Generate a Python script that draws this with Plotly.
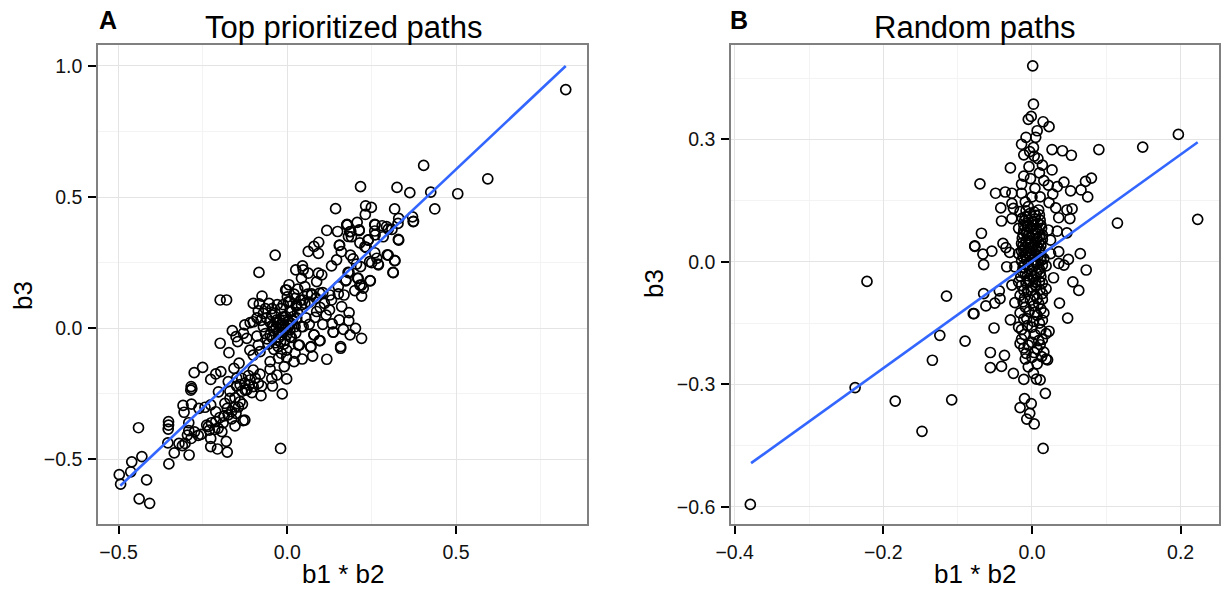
import plotly.graph_objects as go
from plotly.subplots import make_subplots

top_points = [
(-0.498,-0.558),(-0.494,-0.594),(-0.461,-0.509),(-0.464,-0.547),(-0.431,-0.489),(-0.441,-0.379),(-0.417,-0.578),(-0.439,-0.650),(-0.408,-0.667),
(-0.351,-0.517),(-0.354,-0.437),(-0.352,-0.356),(-0.352,-0.369),(-0.353,-0.384),(-0.335,-0.475),(-0.291,-0.483),(-0.321,-0.439),(-0.311,-0.447),
(-0.303,-0.439),(-0.296,-0.407),(-0.292,-0.390),(-0.292,-0.360),(-0.306,-0.320),(-0.309,-0.294),(-0.284,-0.289),(-0.285,-0.222),(-0.283,-0.230),
(-0.286,-0.236),(-0.276,-0.169),(-0.251,-0.149),(-0.264,-0.408),(-0.256,-0.404),(-0.239,-0.369),(-0.234,-0.375),(-0.231,-0.388),(-0.227,-0.420),
(-0.227,-0.451),(-0.207,-0.460),(-0.178,-0.472),(-0.181,-0.431),(-0.194,-0.394),(-0.212,-0.356),(-0.205,-0.381),(-0.212,-0.318),(-0.262,-0.305),
(-0.244,-0.301),(-0.227,-0.292),(-0.199,0.108),(-0.180,0.108),(-0.199,-0.057),(-0.173,-0.093),(-0.163,-0.009),(-0.152,-0.032),(-0.147,-0.051),
(-0.227,-0.195),(-0.212,-0.174),(-0.197,-0.165),(-0.175,-0.203),(-0.204,-0.242),(-0.158,-0.153),(-0.143,-0.133),(-0.170,-0.267),(-0.185,-0.286),
(-0.178,-0.305),(-0.165,-0.318),(-0.152,-0.324),(-0.133,-0.289),(-0.187,-0.334),(-0.155,-0.372),(-0.131,-0.352),(-0.126,-0.350),(-0.020,-0.458),
(-0.015,-0.250),(-0.078,-0.257),(-0.044,-0.220),(-0.002,-0.193),(-0.120,-0.235),(-0.111,-0.197),(-0.126,-0.210),(-0.101,-0.222),(-0.081,-0.175),
(-0.086,-0.210),(-0.150,-0.220),(-0.135,-0.191),(-0.101,-0.159),(-0.076,-0.220),(-0.113,-0.216),(-0.046,-0.191),(-0.031,-0.178),(-0.051,-0.156),
(-0.009,-0.146),(-0.051,-0.127),(-0.026,-0.114),(-0.002,-0.111),(0.020,-0.127),(0.044,-0.117),(0.075,-0.106),(0.117,-0.118),(0.158,-0.076),
(0.095,-0.047),(0.069,-0.072),(0.079,-0.025),(0.136,-0.015),(0.036,-0.064),(0.023,-0.095),(-0.002,-0.083),(-0.027,-0.070),(-0.007,-0.044),
(-0.056,-0.060),(-0.086,-0.064),(-0.111,-0.083),(-0.101,-0.102),(-0.081,-0.089),(-0.120,-0.038),(-0.130,-0.019),(-0.126,0.013),(-0.110,0.022),
(-0.101,0.025),(-0.071,0.006),(-0.051,-0.025),(-0.101,0.095),(-0.083,0.093),(-0.075,0.123),(-0.054,0.095),(-0.086,0.067),(-0.071,0.057),
(-0.046,0.051),(-0.031,0.032),(-0.017,0.019),(-0.007,0.000),(0.008,-0.006),(-0.002,-0.025),(0.023,0.006),(0.047,0.006),(-0.002,0.146),
(0.008,0.102),(0.013,0.064),(0.040,0.108),(0.028,0.089),(0.052,0.095),(0.072,0.127),(0.096,0.134),
(-0.060,-0.040),(-0.040,-0.010),(-0.025,-0.035),(-0.015,-0.015),(-0.033,0.005),(-0.010,-0.060),(0.012,-0.035),(0.025,-0.018),(0.003,0.025),
(0.015,0.032),(-0.052,0.025),(-0.062,0.040),(-0.036,0.058),(-0.020,0.075),(-0.012,0.090),(0.000,0.120),(0.020,0.130),(-0.040,-0.080),(-0.018,-0.095),
(0.825,0.910),(0.594,0.570),(0.505,0.513),(0.404,0.621),(0.425,0.519),(0.437,0.455),(0.363,0.517),(0.325,0.537),(0.217,0.540),(0.318,0.455),
(0.371,0.425),(0.374,0.408),(0.330,0.419),(0.328,0.400),(0.310,0.377),(0.330,0.336),(0.299,0.378),(0.281,0.391),(0.259,0.396),(0.259,0.371),
(0.284,0.349),(0.232,0.467),(0.249,0.461),(0.231,0.434),(0.207,0.404),(0.177,0.396),(0.185,0.368),(0.213,0.372),(0.190,0.349),(0.215,0.326),
(0.239,0.336),(0.234,0.308),(0.259,0.288),(0.299,0.279),(0.318,0.258),(0.313,0.213),(0.269,0.245),(0.244,0.254),(0.217,0.235),(0.187,0.279),
(0.160,0.292),(0.246,0.181),(0.210,0.190),(0.220,0.165),(0.173,0.181),(0.180,0.213),(0.155,0.317),
(0.143,0.456),(0.176,0.394),(0.117,0.373),(0.149,0.369),(0.181,0.350),(0.154,0.316),(0.093,0.328),(0.079,0.312),(0.062,0.293),(0.092,0.286),
(-0.036,0.279),(-0.084,0.213),(0.146,0.261),(0.131,0.238),(0.045,0.238),(0.025,0.223),(0.047,0.223),(0.062,0.210),(0.092,0.210),(0.102,0.204),
(0.042,0.191),(0.087,0.178),(0.005,0.166),
(0.052,0.159),(-0.005,0.146),(0.031,0.149),(0.072,0.131),(0.183,0.212),(0.174,0.184),(0.208,0.191),(0.245,0.182),(0.215,0.165),(0.225,0.153),
(0.200,0.144),(0.220,0.123),(0.151,0.159),(0.151,0.131),(0.168,0.127),(0.126,0.127),(0.131,0.108),(0.105,0.136),(0.003,0.102),(0.023,0.114),
(0.047,0.108),(0.042,0.089),(0.026,0.085),(0.008,0.064),(0.097,0.080),(0.087,0.064),(0.082,0.042),(0.161,0.083),(0.183,0.060),(0.154,0.032),
(0.182,0.029),(0.133,0.017),(0.136,-0.014),(0.166,-0.004),(0.186,-0.025),(0.202,0.000),(0.220,-0.038),(0.079,-0.025),(0.097,-0.047),(0.070,-0.070),
(0.158,-0.070),(0.042,0.006),(0.033,-0.064),(-0.022,0.032),(-0.012,0.044),(-0.041,0.006),(0.008,-0.032),(-0.012,0.006),
(0.314,0.212),(0.296,0.280),(0.319,0.258),(0.270,0.242),(0.250,0.250),(0.265,0.267),(0.230,0.311),(0.188,0.369),(0.213,0.375),(0.178,0.394),
(0.260,0.394),(0.329,0.339),(0.260,0.356),(0.294,0.388),(0.240,0.337),(0.373,0.407),
(-0.045,0.010),(-0.030,0.020),(-0.020,0.010),(-0.028,-0.015),(-0.012,0.030),(-0.005,0.045),(0.002,0.010),(0.010,0.020),(0.018,0.045),(0.028,0.040),
(-0.020,-0.050),(-0.035,-0.055),(-0.045,-0.035),(-0.065,-0.020),(-0.078,0.030),(-0.090,0.040),(-0.065,0.075),(-0.045,0.075),(-0.030,0.090),(-0.090,-0.030),
(-0.150,-0.190),(-0.140,-0.215),(-0.125,-0.235),(-0.105,-0.245),(-0.135,-0.240),(-0.115,-0.180),(-0.095,-0.190),(-0.170,-0.240),(-0.155,-0.265),(-0.140,-0.280),
(-0.165,-0.345),(-0.175,-0.330),(-0.190,-0.360),(-0.200,-0.340),(-0.215,-0.385),(-0.225,-0.360),(-0.145,-0.300),(-0.155,-0.300),(-0.275,-0.395),(-0.285,-0.420),
(0.060,0.130),(0.085,0.115),(0.110,0.095),(0.115,0.050),(0.125,0.070),(0.065,0.100),(0.030,0.060),(0.055,0.040),(0.065,0.015),(0.105,0.015),(0.195,0.265),(0.205,0.245),
]
top_line_x = [-0.495, 0.825]
top_line_y = [-0.600, 1.000]

random_points = [
(-0.379,-0.594),(-0.238,-0.308),(-0.222,-0.048),(-0.184,-0.341),(-0.148,-0.415),(-0.108,-0.338),(-0.134,-0.241),(-0.124,-0.180),(-0.090,-0.194),
(-0.115,-0.084),(-0.078,-0.127),(-0.077,0.039),(0.197,0.312),(0.149,0.281),(0.090,0.275),(0.223,0.104),(0.115,0.095),
(0.001,0.480),(0.002,0.386),(-0.001,0.356),(-0.005,0.349),(0.015,0.343),(0.023,0.331),(0.007,0.321),(-0.008,0.305),(0.005,0.305),(-0.014,0.288),
(0.002,0.280),(-0.003,0.270),(-0.011,0.262),(0.027,0.275),(0.041,0.272),(0.053,0.261),(0.003,0.259),(0.008,0.253),(0.014,0.237),(-0.004,0.233),
(-0.029,0.230),(0.027,0.225),(0.010,0.218),(-0.011,0.210),(-0.002,0.204),(-0.070,0.191),(-0.014,0.190),(0.016,0.199),(0.022,0.188),(0.034,0.184),
(0.043,0.195),(0.080,0.205),(0.072,0.197),(0.066,0.176),(0.075,0.159),(0.052,0.174),(-0.049,0.168),(-0.036,0.171),(-0.027,0.168),(-0.014,0.168),
(0.004,0.180),(0.000,0.159),(0.011,0.159),(0.028,0.166),(-0.042,0.132),(-0.027,0.143),(-0.025,0.131),(-0.009,0.147),(0.023,0.145),(0.032,0.132),
(0.054,0.130),(0.047,0.127),(0.036,0.108),(0.051,0.106),(-0.041,0.100),(-0.027,0.106),(-0.016,0.123),(-0.005,0.135),(0.009,0.127),(-0.009,0.110),
(0.005,0.114),(-0.018,0.082),(0.011,0.102),(-0.007,0.094),(0.002,0.090),(-0.011,0.078),(0.013,0.082),(-0.005,0.065),(0.005,0.070),(0.022,0.078),
(0.034,0.075),(0.047,0.071),(-0.068,0.070),(-0.077,0.038),(-0.054,0.026),(-0.066,0.019),(-0.039,0.045),(-0.035,0.035),(-0.030,0.023),(-0.065,-0.007),
(0.025,0.053),(0.036,0.025),(0.065,0.020),(0.049,0.006),(-0.014,0.045),(-0.002,0.049),(0.007,0.037),(-0.011,0.028),(0.000,0.020),(0.011,0.024),
(-0.007,0.004),(0.005,0.000),(0.016,0.008),(0.025,0.020),(-0.018,0.020),(0.036,-0.004),(0.043,-0.008),(-0.034,-0.012),(-0.023,-0.012),
(-0.003,0.118),(0.004,0.105),(-0.010,0.100),(0.008,0.095),(-0.006,0.085),(0.006,0.080),(-0.012,0.068),(0.010,0.062),(-0.003,0.058),(0.014,0.055),
(-0.008,0.052),(0.004,0.046),(-0.012,0.040),(0.012,0.040),(-0.004,0.034),(0.005,0.028),(-0.007,0.022),(0.008,0.014),(-0.002,0.012),(-0.012,0.012),
(0.012,0.003),(-0.010,-0.006),(0.003,-0.010),(-0.004,-0.016),(0.010,-0.018),(-0.013,-0.024),(0.006,-0.028),(-0.006,-0.034),(0.012,-0.036),(-0.015,-0.036),
(0.002,-0.042),(-0.008,-0.052),(0.010,-0.048),(0.000,-0.062),(0.011,-0.068),(-0.006,-0.072),(0.004,-0.082),(-0.010,-0.088),(0.007,-0.090),
(0.019,-0.010),(0.029,-0.039),(0.073,-0.020),(0.055,-0.049),(0.063,-0.070),(0.037,-0.101),(0.048,-0.138),(-0.044,-0.071),(-0.065,-0.078),(-0.043,-0.090),
(-0.050,-0.101),(-0.062,-0.108),(-0.079,-0.127),(-0.029,-0.142),(-0.051,-0.162),(-0.027,-0.057),(-0.023,-0.100),(-0.018,-0.049),(-0.011,-0.070),(-0.005,-0.045),
(0.005,-0.057),(0.014,-0.078),(0.019,-0.066),(-0.016,-0.082),(-0.002,-0.094),(0.009,-0.102),(-0.009,-0.111),(-0.016,-0.125),(0.016,-0.125),(0.007,-0.131),
(0.014,-0.143),(-0.007,-0.139),(-0.018,-0.160),(-0.014,-0.166),(0.000,-0.160),(0.023,-0.170),(0.019,-0.176),(0.009,-0.193),(-0.014,-0.189),(0.000,-0.197),
(-0.011,-0.211),(0.007,-0.213),(0.016,-0.221),(-0.009,-0.238),(0.000,-0.234),(0.019,-0.238),(0.021,-0.240),(0.007,-0.250),(-0.005,-0.257),(0.002,-0.273),
(-0.025,-0.273),(-0.011,-0.288),(0.006,-0.287),(0.011,-0.289),(-0.056,-0.222),(-0.037,-0.229),(-0.056,-0.259),(-0.041,-0.256),(0.018,-0.322),(-0.010,-0.335),
(-0.001,-0.347),(-0.016,-0.357),(-0.003,-0.371),(-0.007,-0.385),(0.003,-0.397),(0.015,-0.457),
(-0.008,0.125),(0.003,0.122),(0.010,0.115),(-0.013,0.107),(-0.005,0.102),(0.001,0.098),(-0.011,0.090),(0.012,0.090),(-0.002,0.084),(0.008,0.074),
(-0.008,0.072),(0.001,0.066),(-0.013,0.058),(0.014,0.066),(0.007,0.056),(-0.005,0.044),(0.009,0.048),(-0.010,0.034),(0.002,0.040),(0.010,0.032),
(-0.014,0.026),(-0.003,0.018),(0.004,0.016),(0.012,0.010),(-0.009,0.016),(-0.014,0.002),(0.001,0.004),(0.008,-0.004),(-0.005,-0.008),(0.014,-0.008),
(-0.012,-0.014),(0.000,-0.022),(0.011,-0.026),(-0.009,-0.028),(0.003,-0.036),(-0.003,-0.046),(0.014,-0.052),(-0.014,-0.058),(0.005,-0.050),(-0.001,-0.070),
(0.014,-0.092),(-0.012,-0.098),(0.002,-0.108),(0.012,-0.116),(-0.004,-0.122),(0.004,-0.124),(-0.011,-0.140),(0.010,-0.150),(0.002,-0.146),(-0.006,-0.156),
(0.012,-0.166),(0.004,-0.178),(-0.010,-0.178),(0.014,-0.190),(-0.005,-0.204),(0.011,-0.203),(-0.016,-0.200),(0.003,-0.222),(-0.008,-0.224),(0.013,-0.232),
]
random_line_x = [-0.378, 0.223]
random_line_y = [-0.493, 0.293]

W, H = 1225, 590
fig = make_subplots(rows=1, cols=2)
FONT = "Liberation Sans"
for col, pts, lx, ly in [(1, top_points, top_line_x, top_line_y), (2, random_points, random_line_x, random_line_y)]:
    fig.add_trace(go.Scatter(x=[p[0] for p in pts], y=[p[1] for p in pts], mode="markers",
                             marker=dict(symbol="circle-open", size=10, color="black", line=dict(width=1.7, color="black")),
                             showlegend=False), row=1, col=col)
    fig.add_trace(go.Scatter(x=lx, y=ly, mode="lines", line=dict(color="#3366FF", width=2.6), showlegend=False), row=1, col=col)

def axis(rng, dom, dtick, mdtick, anchor):
    return dict(range=rng, domain=dom, dtick=dtick, tick0=0, tickformat=".1f", anchor=anchor, automargin=False,
                showgrid=True, gridcolor="#e4e4e4", gridwidth=1.3, zeroline=False,
                minor=dict(dtick=mdtick, tick0=0, showgrid=True, gridcolor="#f3f3f3", gridwidth=1.2, ticks=""),
                ticks="outside", ticklen=8, tickwidth=1.6, tickcolor="black", ticklabelstandoff=2,
                tickfont=dict(family=FONT, size=19.5, color="#111111"),
                showline=True, mirror=True, linecolor="#808080", linewidth=1.5)

yd = [1 - 524/H, 1 - 45/H]
def label(text, px, py, size, angle=0):
    return dict(text=text, x=px/W, y=1-py/H, xref="paper", yref="paper", xanchor="center", yanchor="middle",
                showarrow=False, textangle=angle, font=dict(family=FONT, size=size, color="black"))

fig.update_layout(
    template="none", hovermode=False,
    width=W, height=H, margin=dict(l=0, r=0, t=0, b=0), paper_bgcolor="white", plot_bgcolor="white",
    xaxis=axis([-0.561, 0.888], [98/W, 587/W], 0.5, 0.25, "y"),
    yaxis=axis([-0.746, 1.080], yd, 0.5, 0.25, "x"),
    xaxis2=axis([-0.405, 0.251], [731/W, 1218.5/W], 0.2, 0.1, "y2"),
    yaxis2=axis([-0.642, 0.531], yd, 0.3, 0.15, "x2"),
    annotations=[
        label("Top prioritized paths", 343, 27, 31),
        label("Random paths", 975, 27, 31),
        label("<b>A</b>", 108, 20, 25),
        label("<b>B</b>", 739, 20, 25),
        label("b1 * b2", 343, 574, 26),
        label("b1 * b2", 975, 574, 26),
        label("b3", 23, 296, 26, -90),
        label("b3", 654, 284, 26, -90),
    ],
)
fig.write_html("out.html", post_script="document.body.style.margin='0';", config={"displayModeBar": False})
